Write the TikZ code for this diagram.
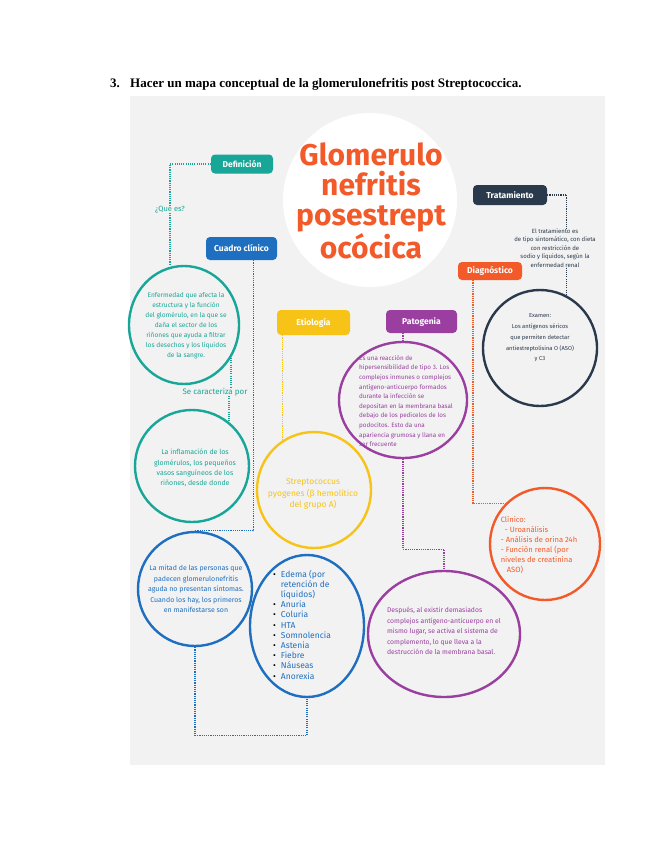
\documentclass[tikz,border=0pt]{standalone}
\usepackage{fontspec}
\setmainfont{Fira Sans}
\newfontfamily\headfont{Liberation Serif}
\usetikzlibrary{shapes.geometric}

\definecolor{panelgray}{HTML}{F2F2F2}
\definecolor{mapteal}{HTML}{17A697}
\definecolor{mapblue}{HTML}{1E6FC0}
\definecolor{mapyellow}{HTML}{F6C316}
\definecolor{mappurple}{HTML}{9A3FA0}
\definecolor{maporange}{HTML}{F25A2A}
\definecolor{mapnavy}{HTML}{2A3A4C}

\tikzset{
  tag/.style={rounded corners=4pt, fill=#1, text=white, inner sep=0pt,
    font=\bfseries\fontsize{8.5}{10}\selectfont},
  bubble/.style={ellipse, draw=#1, line width=2.4pt, inner sep=0pt},
  link/.style={draw=#1, line width=1.3pt, dash pattern=on 1.1pt off 1.1pt},
  note/.style={text=#1, align=center, inner sep=0pt},
}

\begin{document}
\begin{tikzpicture}[x=1pt,y=-1pt]
\useasboundingbox (0,0) rectangle (655,848);

% heading and panel
\node[anchor=base west, font=\headfont\bfseries\fontsize{13}{15}\selectfont, inner sep=0] (num) at (110,88) {3.};
\node[anchor=base west, font=\headfont\bfseries\fontsize{13}{15}\selectfont, inner sep=0] (hdr) at (130,88) {Hacer un mapa conceptual de la glomerulonefritis post Streptococcica.};
\fill[panelgray] (130,96) rectangle (605,765);

% central title
\node[circle, fill=white, minimum size=174pt, inner sep=0] (core) at (370,200) {};
\node[note=maporange, font=\bfseries\fontsize{30}{30}\selectfont] (coretext) at (371,201) {Glomerulo\\nefritis\\posestrept\\ocócica};

% labels
\node[tag=mapteal, minimum width=62pt, minimum height=19pt] (def) at (242,164) {Definición};
\node[tag=mapblue, minimum width=71pt, minimum height=23pt] (cc) at (241.5,248.5) {Cuadro clínico};
\node[tag=mapyellow, minimum width=73pt, minimum height=25pt] (etio) at (313.5,322.5) {Etiología};
\node[tag=mappurple, minimum width=71pt, minimum height=23pt] (pato) at (421.5,321.5) {Patogenia};
\node[tag=mapnavy, minimum width=74pt, minimum height=20pt] (trat) at (510,195) {Tratamiento};
\node[tag=maporange, minimum width=64pt, minimum height=18pt] (diag) at (490,271) {Diagnóstico};

% bubbles
\node[bubble=mapteal, minimum width=110pt, minimum height=118pt] (c1) at (184,325) {};
\node[bubble=mapteal, minimum width=114pt, minimum height=112pt] (c2) at (192,466) {};
\node[bubble=mapblue, minimum width=114pt, minimum height=114pt] (c3) at (195,589) {};
\node[bubble=mapblue, minimum width=114pt, minimum height=142pt] (e4) at (307,626) {};
\node[bubble=mapyellow, minimum width=114pt, minimum height=116pt] (e5) at (314,490) {};
\node[bubble=mappurple, minimum width=128pt, minimum height=116pt] (p6) at (403,400) {};
\node[bubble=mappurple, minimum width=152pt, minimum height=126pt] (p7) at (444,634) {};
\node[bubble=mapnavy, minimum width=114pt, minimum height=116pt] (dk) at (540,348) {};
\node[bubble=maporange, minimum width=110pt, minimum height=112pt] (o8) at (545,544) {};

% texts
\node[note=mapteal, font=\fontsize{7.5}{8}\selectfont] (que) at (170,209) {¿Qué es?};
\node[note=mapteal, font=\fontsize{8}{9}\selectfont] (car) at (215,392) {Se caracteriza por};
\node[note=mapteal, font=\fontsize{6.6}{10}\selectfont] (c1text) at (186,326) {Enfermedad que afecta la\\estructura y la función\\del glomérulo, en la que se\\daña el sector de los\\riñones que ayuda a filtrar\\los desechos y los líquidos\\de la sangre.};
\node[note=mapteal, font=\fontsize{7}{10.3}\selectfont] (c2text) at (195,468) {La inflamación de los\\glomérulos, los pequeños\\vasos sanguíneos de los\\riñones, desde donde};
\node[note=mapblue, font=\fontsize{7}{10.5}\selectfont] (c3text) at (196,589) {La mitad de las personas que\\padecen glomerulonefritis\\aguda no presentan síntomas.\\Cuando los hay, los primeros\\en manifestarse son};
\node[note=mapblue, anchor=west, align=left, font=\fontsize{8.5}{10.2}\selectfont] (e4text) at (273,626) {%
\begin{tabular}{@{}l@{\hspace{5pt}}l@{}}
\textcolor{black}{\textbullet} & Edema (por\\ & retención de\\ & líquidos)\\
\textcolor{black}{\textbullet} & Anuria\\ \textcolor{black}{\textbullet} & Coluria\\ \textcolor{black}{\textbullet} & HTA\\
\textcolor{black}{\textbullet} & Somnolencia\\ \textcolor{black}{\textbullet} & Astenia\\ \textcolor{black}{\textbullet} & Fiebre\\
\textcolor{black}{\textbullet} & Náuseas\\ \textcolor{black}{\textbullet} & Anorexia
\end{tabular}};
\node[note=mapyellow, font=\fontsize{8.5}{11.5}\selectfont] (e5text) at (313,494) {Streptococcus\\pyogenes (β hemolítico\\del grupo A)};
\node[note=mappurple, align=left, font=\fontsize{6.3}{9.6}\selectfont] (p6text) at (406,401) {Es una reacción de\\hipersensibilidad de tipo 3. Los\\complejos inmunes o complejos\\antígeno-anticuerpo formados\\durante la infección se\\depositan en la membrana basal\\debajo de los pedicelos de los\\podocitos. Esto da una\\apariencia grumosa y llana en\\ser frecuente};
\node[note=mappurple, align=left, font=\fontsize{6.8}{10.4}\selectfont] (p7text) at (444,631) {Después, al existir demasiados\\complejos antígeno-anticuerpo en el\\mismo lugar, se activa el sistema de\\complemento, lo que lleva a la\\destrucción de la membrana basal.};
\node[note=mapnavy, font=\fontsize{6}{8.5}\selectfont] (tt) at (555,248) {El tratamiento es\\de tipo sintomático, con dieta\\con restricción de\\sodio y líquidos, según la\\enfermedad renal};
\node[note=mapnavy, font=\fontsize{5.8}{10.7}\selectfont] (dktext) at (540,338) {Examen:\\Los antígenos séricos\\que permiten detectar\\antiestreptolisina O (ASO)\\y C3};
\node[note=maporange, align=left, font=\fontsize{7.6}{10}\selectfont] (o8text) at (539,545) {Clínico:\\\hspace{4pt}- Uroanálisis\\- Análisis de orina 24h\\- Función renal (por\\niveles de creatinina\\\hspace{6pt}ASO)};

% connectors
\draw[link=mapteal] (def.west) -| (que.north);
\draw[link=mapteal] (que.south) -- (que.south |- c1.north);
\draw[link=mapteal] (c1.-35) -- (c1.-35 |- car.north);
\draw[link=mapteal] (c2.50 |- car.south) -- (c2.50);
\draw[link=mapblue] ([xshift=12pt]cc.south) |- (c3.north);
\draw[link=mapblue] (c3.south) -- ++(0,88) -| (e4.south);
\draw[link=mapyellow] (e5.122 |- etio.south) -- (e5.122);
\draw[link=mappurple] (p6.north |- pato.south) -- (p6.north);
\draw[link=mappurple] (p6.south) -- ++(0,90) -| (p7.north);
\draw[link=mapnavy] (trat.east) -| (dk.63 |- tt.north);
\draw[link=mapnavy] (dk.63 |- tt.south) -- (dk.63);
\draw[link=maporange] ([xshift=-17pt]diag.south) |- (o8.north west);
\end{tikzpicture}
\end{document}
